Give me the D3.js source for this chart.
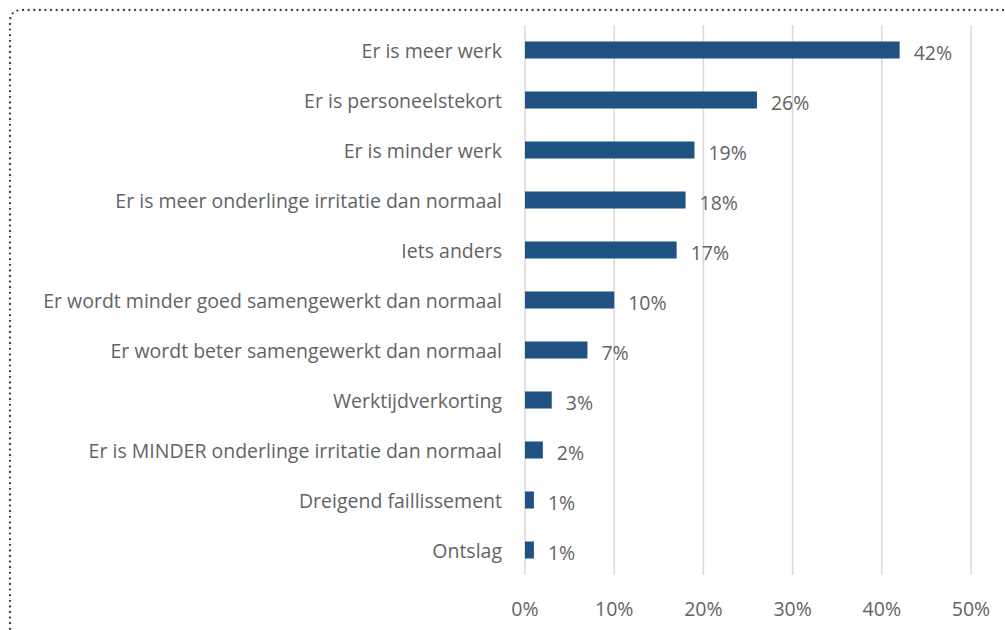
<!DOCTYPE html>
<html>
<head>
<meta charset="utf-8">
<script src="https://cdn.jsdelivr.net/npm/d3@7"></script>
<style>
  body { margin: 0; background: #fff; }
  text { font-family: "Open Sans", sans-serif; fill: #636363; }
</style>
</head>
<body>
<div id="chart"></div>
<script>
// data (top to bottom)
const categories = [
  "Er is meer werk",
  "Er is personeelstekort",
  "Er is minder werk",
  "Er is meer onderlinge irritatie dan normaal",
  "Iets anders",
  "Er wordt minder goed samengewerkt dan normaal",
  "Er wordt beter samengewerkt dan normaal",
  "Werktijdverkorting",
  "Er is MINDER onderlinge irritatie dan normaal",
  "Dreigend faillissement",
  "Ontslag"
];
const values = [42, 26, 19, 18, 17, 10, 7, 3, 2, 1, 1];
const ticks = [0, 10, 20, 30, 40, 50];

const W = 1005, H = 630;
const margin = {top: 25, right: 34, bottom: 55, left: 525};
const fs = "19.5px";

const svg = d3.select("#chart").append("svg")
  .attr("width", W).attr("height", H);

// dotted frame, only top and left are in view
svg.append("path")
  .attr("d", "M 10 640 L 10 22 Q 10 10 22 10 L 1015 10")
  .attr("fill", "none")
  .attr("stroke", "#3a3a3a")
  .attr("stroke-width", 2.3)
  .attr("stroke-linecap", "round")
  .attr("stroke-dasharray", "0 5.6");

const x = d3.scaleLinear().domain([0, 50]).range([margin.left, W - margin.right]);
const y = d3.scaleBand().domain(categories)
  .range([margin.top, H - margin.bottom]).paddingInner(0.66).paddingOuter(0.33);

// gridlines
svg.append("g").selectAll("line").data(ticks).enter().append("line")
  .attr("x1", d => x(d)).attr("x2", d => x(d))
  .attr("y1", margin.top).attr("y2", H - margin.bottom)
  .attr("stroke", "#d9d9d9").attr("stroke-width", 1.5);

// x tick labels
svg.append("g").selectAll("text").data(ticks).enter().append("text")
  .attr("x", d => x(d)).attr("y", 608)
  .attr("text-anchor", "middle").attr("dominant-baseline", "central")
  .style("font-size", fs)
  .text(d => d + "%");

// bars
svg.append("g").selectAll("rect").data(values).enter().append("rect")
  .attr("x", x(0))
  .attr("y", (d, i) => y(categories[i]))
  .attr("width", d => x(d) - x(0))
  .attr("height", y.bandwidth())
  .attr("fill", "#1f5183");

// value labels
svg.append("g").selectAll("text").data(values).enter().append("text")
  .attr("x", d => x(d) + 14)
  .attr("y", (d, i) => y(categories[i]) + y.bandwidth() / 2 + 2)
  .attr("dominant-baseline", "central")
  .style("font-size", fs)
  .text(d => d + "%");

// category labels
svg.append("g").selectAll("text").data(categories).enter().append("text")
  .attr("x", margin.left - 23)
  .attr("y", d => y(d) + y.bandwidth() / 2)
  .attr("text-anchor", "end").attr("dominant-baseline", "central")
  .style("font-size", fs)
  .text(d => d);
</script>
</body>
</html>
